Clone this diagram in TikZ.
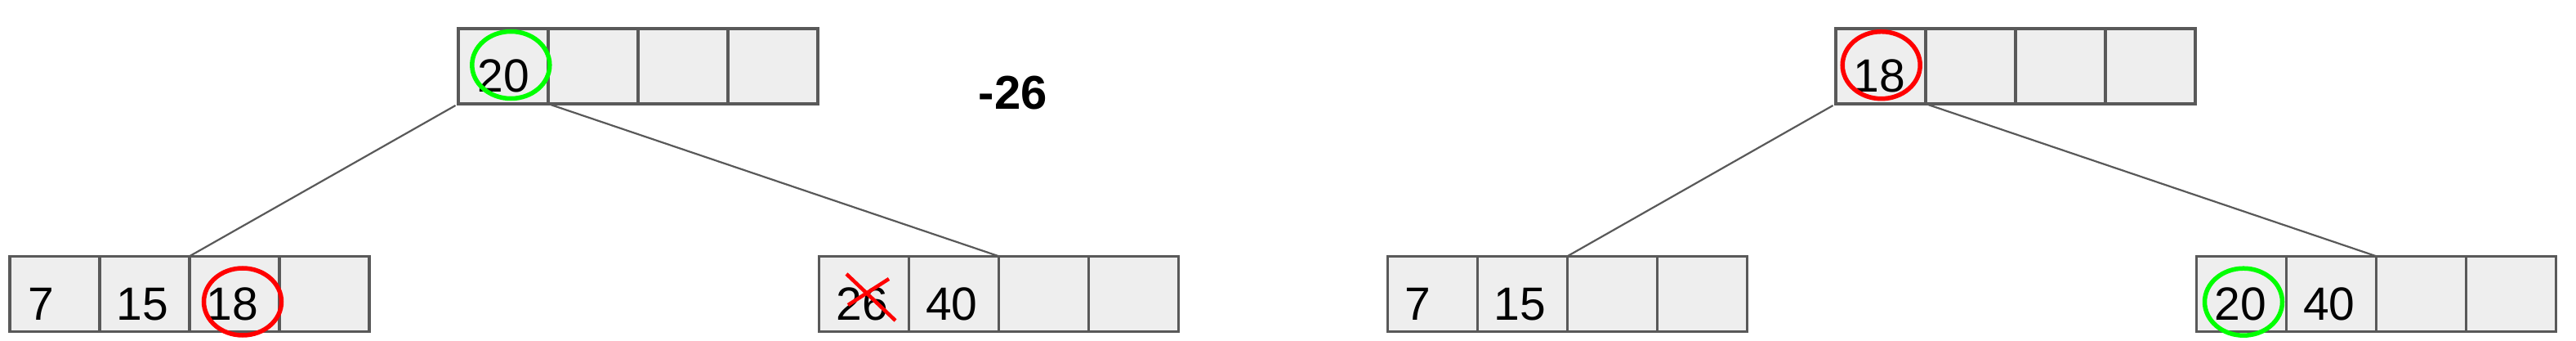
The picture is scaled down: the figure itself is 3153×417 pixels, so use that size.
\documentclass[tikz,border=0pt]{standalone}
\usepackage{fontspec}
\setmainfont{Liberation Sans}
\usetikzlibrary{shapes.geometric}
\definecolor{boxgray}{HTML}{595959}
\definecolor{cellfill}{HTML}{EEEEEE}
\definecolor{hlgreen}{HTML}{00FF00}
\definecolor{hlred}{HTML}{FF0000}
\tikzset{
  cell/.style={rectangle, draw=boxgray, fill=cellfill, line width=3.2pt,
    minimum width=110pt, minimum height=92pt, inner sep=0pt, outer sep=0pt},
  num/.style={anchor=base west, inner sep=0pt, outer sep=0pt,
    font=\fontsize{57pt}{60pt}\selectfont, text=black},
  edge/.style={draw=boxgray, line width=2.2pt, shorten <=4pt},
  ring/.style={ellipse, line width=5.5pt, minimum width=95pt, minimum height=82pt,
    inner sep=0pt, outer sep=0pt},
  greenring/.style={ring, draw=hlgreen},
  redring/.style={ring, draw=hlred},
  cross/.style={draw=hlred, line width=4.5pt}
}
\begin{document}
\begin{tikzpicture}[x=1pt,y=-1pt]
\path[use as bounding box] (0,0) rectangle (3153,417);
% ---------- left tree ----------
\foreach \i/\x in {1/616,2/726,3/836,4/946} \node[cell] (T\i) at (\x,81) {};
\foreach \i/\x in {1/67,2/177,3/287,4/397} \node[cell] (L\i) at (\x,359.3) {};
\foreach \i/\x in {1/1057.5,2/1167.5,3/1277.5,4/1387.5} \node[cell] (M\i) at (\x,359.3) {};
% ---------- right tree ----------
\foreach \i/\x in {1/2302,2/2412,3/2522,4/2632} \node[cell] (U\i) at (\x,81) {};
\foreach \i/\x in {1/1753.5,2/1863.5,3/1973.5,4/2083.5} \node[cell] (R\i) at (\x,359.3) {};
\foreach \i/\x in {1/2743.5,2/2853.5,3/2963.5,4/3073.5} \node[cell] (B\i) at (\x,359.3) {};
% ---------- connectors ----------
\draw[edge] (T1.south west) -- (L3.north west);
\draw[edge] (T1.south east) -- (M3.north west);
\draw[edge] (U1.south west) -- (R3.north west);
\draw[edge] (U1.south east) -- (B3.north west);
% ---------- numbers ----------
\node[num] (nT1) at (584.5,112.3) {20};
\node[num] (nL1) at (34,391) {7};
\node[num] (nL2) at (142.8,391) {15};
\node[num] (nL3) at (252.8,391) {18};
\node[num] (nM1) at (1023.3,391) {26};
\node[num] (nM2) at (1133,391) {40};
\node[num] (nR1) at (1719,391) {7};
\node[num] (nR2) at (1828.8,391) {15};
\node[num] (nU1) at (2268.8,112.3) {18};
\node[num] (nB1) at (2710.6,391) {20};
\node[num] (nB2) at (2819,391) {40};
% ---------- label ----------
\node[anchor=base west, inner sep=0pt, font=\fontsize{58pt}{60pt}\selectfont\bfseries] (lbl) at (1197.5,133.3) {-26};
% ---------- highlight rings ----------
\node[greenring] (gT) at (625.3,79.5) {};
\node[redring] (rL) at (297,369) {};
\node[redring] (rU) at (2302.7,79.7) {};
\node[greenring] (gB) at (2746,369.2) {};
% ---------- strike-out ----------
\draw[cross] (1036,335) -- (1096,392);
\draw[cross] (1088,341) -- (1038,373);
\end{tikzpicture}
\end{document}
